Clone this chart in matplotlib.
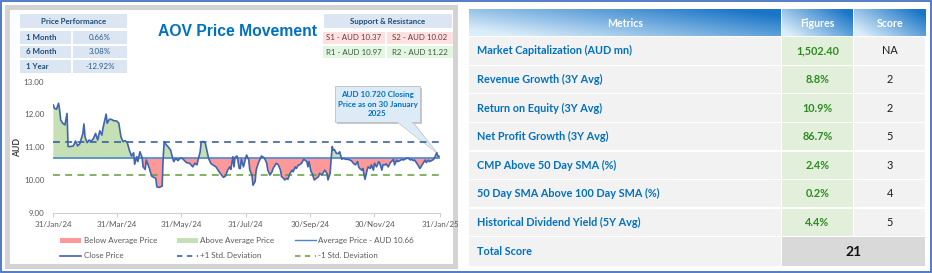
import numpy as np
import pandas as pd
import matplotlib
matplotlib.use("Agg")
import matplotlib.pyplot as plt
from matplotlib.patches import Rectangle, Polygon
from matplotlib.lines import Line2D

# ---------------- data ----------------
day_offsets = [0, 1, 3, 5, 6, 7, 9, 11, 13, 14, 16, 19, 21, 23, 25, 28, 29, 30, 32, 34,
               36, 38, 40, 42, 44, 46, 47, 50, 51, 53, 55, 57, 60, 62, 64, 66, 68, 70, 72, 74,
               76, 77, 79, 80, 82, 84, 85, 87, 88, 91, 93, 95, 97, 98, 100, 103, 104, 105, 107, 109,
               111, 113, 114, 116, 118, 120, 122, 125, 126, 129, 132, 134, 136, 137, 139, 140, 143, 144, 147, 149,
               151, 154, 156, 158, 161, 163, 165, 167, 168, 170, 171, 172, 174, 176, 177, 178, 180, 182, 183, 185,
               186, 188, 189, 191, 192, 194, 196, 197, 199, 200, 202, 203, 205, 207, 208, 210, 211, 213, 215, 216,
               218, 219, 221, 222, 224, 226, 227, 229, 230, 232, 233, 235, 237, 238, 240, 241, 242, 244, 245, 247,
               249, 251, 252, 254, 256, 257, 259, 260, 262, 263, 264, 265, 266, 268, 270, 271, 273, 274, 277, 279,
               282, 284, 286, 288, 289, 290, 292, 293, 295, 297, 298, 300, 301, 303, 304, 306, 308, 309, 311, 312,
               314, 315, 317, 319, 320, 322, 323, 325, 326, 328, 330, 331, 333, 334, 336, 338, 339, 341, 342, 344,
               345, 347, 349, 350, 352, 353, 355, 356, 358, 360, 361, 363, 364, 365]
close_prices = [12.29, 12.19, 12.16, 12.34, 12.13, 11.83, 11.73, 11.68, 12.03, 11.02, 11.02, 11.04, 11.19, 11.04, 11.10, 11.42, 11.71, 11.32, 11.14, 11.22,
                11.18, 11.27, 11.42, 11.22, 11.50, 11.37, 11.58, 12.01, 11.73, 11.85, 11.85, 11.81, 11.80, 11.73, 11.32, 11.17, 11.20, 11.14, 10.91, 10.73,
                10.83, 10.48, 10.71, 10.56, 10.86, 10.69, 10.40, 10.32, 10.61, 10.35, 10.12, 10.08, 10.05, 9.79, 9.77, 9.81, 10.69, 11.17, 11.07, 11.00,
                10.91, 10.66, 10.56, 10.66, 10.59, 10.66, 10.66, 10.56, 10.53, 10.51, 10.40, 10.51, 10.46, 10.61, 10.86, 11.17, 11.17, 11.10, 10.66, 10.51,
                10.46, 10.40, 10.30, 10.20, 10.08, 10.12, 10.30, 10.40, 10.32, 10.71, 10.40, 10.69, 10.73, 10.35, 10.35, 10.63, 10.40, 10.66, 10.76, 10.61,
                10.30, 10.15, 9.84, 9.95, 10.30, 10.51, 10.66, 10.73, 10.69, 10.66, 10.51, 10.30, 10.15, 10.25, 10.35, 10.46, 10.51, 10.46, 10.30, 10.10,
                10.05, 10.00, 10.05, 10.02, 10.20, 10.30, 10.25, 10.40, 10.35, 10.46, 10.46, 10.51, 10.63, 10.61, 10.56, 10.40, 10.56, 10.25, 10.20, 10.00,
                10.05, 10.10, 10.20, 10.15, 10.25, 10.30, 10.20, 10.00, 10.20, 10.66, 11.02, 10.91, 10.93, 10.81, 10.81, 10.86, 10.63, 10.66, 10.63, 10.63,
                10.59, 10.51, 10.46, 10.56, 10.40, 10.35, 10.30, 10.35, 10.02, 10.30, 10.40, 10.35, 10.46, 10.30, 10.51, 10.40, 10.56, 10.51, 10.30, 10.46,
                10.46, 10.49, 10.40, 10.53, 10.56, 10.63, 10.46, 10.61, 10.56, 10.59, 10.63, 10.61, 10.63, 10.66, 10.66, 10.61, 10.63, 10.59, 10.61, 10.51,
                10.46, 10.35, 10.46, 10.51, 10.61, 10.53, 10.61, 10.56, 10.59, 10.63, 10.69, 10.83, 10.71, 10.72]
start_date = "2024-01-31"
average_price = 10.66
plus_one_std = 11.17
minus_one_std = 10.16
y_ticks = [9.0, 10.0, 11.0, 12.0, 13.0]
x_tick_dates = ["2024-01-31", "2024-03-31", "2024-05-31", "2024-07-31", "2024-09-30", "2024-11-30", "2025-01-31"]
x_tick_labels = ["31/Jan/24", "31/Mar/24", "31/May/24", "31/Jul/24", "30/Sep/24", "30/Nov/24", "31/Jan/25"]

perf_periods = ["1 Month", "6 Month", "1 Year"]
perf_values = ["0.66%", "3.08%", "-12.92%"]
support_labels = ["S1 - AUD 10.37", "S2 - AUD 10.02"]
resistance_labels = ["R1 - AUD 10.97", "R2 - AUD 11.22"]
annotation_text = "AUD 10.720 Closing\nPrice as on 30 January\n2025"

metrics = ["Market Capitalization (AUD mn)", "Revenue Growth (3Y Avg)", "Return on Equity (3Y Avg)",
           "Net Profit Growth (3Y Avg)", "CMP Above 50 Day SMA (%)", "50 Day SMA Above 100 Day SMA (%)",
           "Historical Dividend Yield (5Y Avg)"]
figures = ["1,502.40", "8.8%", "10.9%", "86.7%", "2.4%", "0.2%", "4.4%"]
scores = ["NA", "2", "2", "5", "3", "4", "5"]
total_score = "21"

# ---------------- figure ----------------
W, H = 932, 273
fig = plt.figure(figsize=(W / 100, H / 100), dpi=100)
bg = fig.add_axes([0, 0, 1, 1])
bg.set_xlim(0, W)
bg.set_ylim(H, 0)
bg.axis("off")

FONT = ["Lato", "DejaVu Sans"]
DARKBLUE = "#1F4E79"

def rect(x0, y0, x1, y1, fc, ec="none", lw=0, z=1):
    bg.add_patch(Rectangle((x0, y0), x1 - x0, y1 - y0, facecolor=fc, edgecolor=ec, linewidth=lw, zorder=z))

# outer blue border
rect(0.8, 0.8, W - 1.2, H - 1.2, "white", ec="#4472C4", lw=1.3, z=0)
# left panel gray frame
rect(5, 5, 458, 269, "#D3D3D3", z=1)
rect(10, 10, 453, 264, "white", z=2)

# Price performance table
rect(20, 14, 127, 28, "#DCE6F2", z=3)
bg.text(73.5, 21.3, "Price Performance", ha="center", va="center", fontsize=5.7, fontweight="bold",
        color=DARKBLUE, family=FONT, zorder=4)
row_tops = [31, 45.5, 60]
for i, (p, v) in enumerate(zip(perf_periods, perf_values)):
    y0 = row_tops[i]
    rect(20, y0, 71, y0 + 12.5, "#DCE6F2", z=3)
    rect(73, y0, 127, y0 + 12.5, "#DCE6F2", z=3)
    bg.text(26, y0 + 6.3, p, ha="left", va="center", fontsize=5.7, fontweight="bold", color=DARKBLUE,
            family=FONT, zorder=4)
    bg.text(100, y0 + 6.3, v, ha="center", va="center", fontsize=5.7, color="#2E5C8A", family=FONT, zorder=4)

# Support & resistance
rect(324, 14, 452, 28, "#DCE6F2", z=3)
bg.text(388, 21.3, "Support & Resistance", ha="center", va="center", fontsize=5.7, fontweight="bold",
        color=DARKBLUE, family=FONT, zorder=4)
for j, lab in enumerate(support_labels):
    x0 = 323 if j == 0 else 387
    x1 = 385 if j == 0 else 453
    rect(x0, 32, x1, 43.5, "#FDE0E0", z=3)
    bg.text((x0 + x1) / 2, 38, lab, ha="center", va="center", fontsize=5.7, color="#6B3A3A", family=FONT, zorder=4)
for j, lab in enumerate(resistance_labels):
    x0 = 323 if j == 0 else 387
    x1 = 385 if j == 0 else 453
    rect(x0, 46, x1, 58, "#E2F6E2", z=3)
    bg.text((x0 + x1) / 2, 52.2, lab, ha="center", va="center", fontsize=5.7, color="#3C5A3C", family=FONT, zorder=4)

# title
bg.text(238, 31, "AOV Price Movement", ha="center", va="center", fontsize=11.3, fontweight="bold",
        color="#0070C0", family=["Liberation Sans", "DejaVu Sans"], zorder=4)

# ---------------- chart ----------------
x0p, x1p, ytop, ybot = 53.3, 440.0, 81.7, 212.7
ax = fig.add_axes([x0p / W, 1 - ybot / H, (x1p - x0p) / W, (ybot - ytop) / H])
ax.set_zorder(5)
ax.patch.set_alpha(0)

base = pd.Timestamp(start_date)
days = np.array(day_offsets, dtype=float)
price = np.array(close_prices)
end_days = (pd.Timestamp(x_tick_dates[-1]) - base).days
ax.set_xlim(0, end_days)
ax.set_ylim(y_ticks[0], y_ticks[-1])

ax.fill_between(days, price, average_price, where=price >= average_price, interpolate=True,
                color="#C5E0B4", linewidth=0)
ax.fill_between(days, price, average_price, where=price <= average_price, interpolate=True,
                color="#FF9999", linewidth=0)
ax.axhline(average_price, color="#4A86CF", linewidth=1.2)
ax.axhline(plus_one_std, color="#2F5597", linewidth=1.1, linestyle=(0, (4.5, 3.5)))
ax.axhline(minus_one_std, color="#5E9E3A", linewidth=1.1, linestyle=(0, (4.5, 3.5)))
ax.plot(days, price, color="#3F64B0", linewidth=1.2)

for s in ["top", "right", "left"]:
    ax.spines[s].set_visible(False)
ax.spines["bottom"].set_color("#D0D0D0")
ax.spines["bottom"].set_linewidth(0.8)
ax.set_yticks(y_ticks)
ax.set_yticklabels([f"{t:.2f}" for t in y_ticks], fontsize=5.8, color="#595959", family=FONT)
ax.tick_params(axis="y", length=0, pad=6.5)
tick_pos = [(pd.Timestamp(d) - base).days for d in x_tick_dates]
ax.set_xticks(tick_pos)
ax.set_xticklabels(x_tick_labels, fontsize=5.8, color="#595959", family=FONT)
ax.tick_params(axis="x", length=3, color="#D0D0D0", pad=3)
ax.set_ylabel("AUD", fontsize=6.2, fontweight="bold", color="#404040", family=FONT)
ax.yaxis.set_label_coords(-0.082, 0.5)

# annotation callout
bg.add_patch(Polygon([(396, 121), (412, 121), (437.5, 153.5)], closed=True, facecolor="#DDEBF7",
                     edgecolor="#BFBFBF", linewidth=0.6, zorder=6))
rect(336.5, 87.5, 421.5, 123.5, "#C8C8C8", z=6)
rect(335, 86, 420, 122, "#DDEBF7", ec="#BFBFBF", lw=0.6, z=7)
bg.add_patch(Polygon([(397, 121.4), (411, 121.4), (437, 153)], closed=True, facecolor="#DDEBF7",
                     edgecolor="none", zorder=7))
bg.text(377.5, 104, annotation_text, ha="center", va="center", fontsize=5.8, fontweight="bold",
        color="#0070C0", family=FONT, linespacing=1.5, zorder=8)

# legend
leg_fs = 5.8
lc = "#595959"
def leg_text(x, y, s):
    bg.text(x, y, s, ha="left", va="center", fontsize=leg_fs, color=lc, family=FONT, zorder=4)

rect(60, 237.5, 81, 242.5, "#FF9999", z=3)
leg_text(83.5, 240, "Below Average Price")
rect(177, 237.5, 198, 242.5, "#C5E0B4", z=3)
leg_text(200.5, 240, "Above Average Price")
bg.add_line(Line2D([295, 316], [240, 240], color="#4A86CF", linewidth=1.0, zorder=3))
leg_text(318.5, 240, "Average Price - AUD 10.66")
bg.add_line(Line2D([60, 81], [255.5, 255.5], color="#3F64B0", linewidth=1.2, zorder=3))
leg_text(83.5, 255.5, "Close Price")
bg.add_line(Line2D([177, 198], [255.5, 255.5], color="#2F5597", linewidth=1.1, linestyle=(0, (3.5, 3)), zorder=3))
leg_text(200.5, 255.5, "+1 Std. Deviation")
bg.add_line(Line2D([295, 316], [255.5, 255.5], color="#5E9E3A", linewidth=1.1, linestyle=(0, (3.5, 3)), zorder=3))
leg_text(318.5, 255.5, "-1 Std. Deviation")

# ---------------- right table ----------------
cols = [(469.3, 780.7), (782.2, 852.7), (854.2, 925.3)]
hdr_y0, hdr_y1 = 9.3, 36.0
light = np.array([0.86, 0.93, 0.98])
dark = np.array([0.10, 0.46, 0.78])
for (cx0, cx1), label in zip(cols, ["Metrics", "Figures", "Score"]):
    nx, ny = 60, 20
    xs = np.linspace(0, 1, nx)[None, :, None]
    ys = np.linspace(0, 1, ny)[:, None, None]
    t = np.clip(0.75 * xs + 0.45 * (1 - ys) - 0.1, 0, 1)
    img = light * (1 - t) + dark * t
    bg.imshow(img, extent=(cx0, cx1, hdr_y1, hdr_y0), aspect="auto", zorder=3, interpolation="bilinear")
    bg.text((cx0 + cx1) / 2, (hdr_y0 + hdr_y1) / 2 + 0.5, label, ha="center", va="center", fontsize=7.6,
            fontweight="bold", color="white", family=FONT, zorder=4)

row_edges = [37.3, 65.9, 94.4, 123.0, 151.5, 180.1, 208.6, 237.2, 266.0]
TFS = 7.8
for i in range(len(metrics)):
    y0, y1 = row_edges[i], row_edges[i + 1] - 1.3
    rect(cols[0][0], y0, cols[0][1], y1, "#F2F2F2", z=3)
    rect(cols[1][0], y0, cols[1][1], y1, "#E2EFDA", z=3)
    rect(cols[2][0], y0, cols[2][1], y1, "#F2F2F2", z=3)
    yc = (y0 + y1) / 2
    bg.text(477.3, yc, metrics[i], ha="left", va="center", fontsize=TFS, fontweight="bold",
            color="#0070C0", family=FONT, zorder=4)
    bg.text((cols[1][0] + cols[1][1]) / 2, yc, figures[i], ha="center", va="center", fontsize=TFS,
            fontweight="bold", color="#2E8B22", family=FONT, zorder=4)
    bg.text((cols[2][0] + cols[2][1]) / 2, yc, scores[i], ha="center", va="center", fontsize=TFS,
            color="#1A1A1A", family=FONT, zorder=4)
y0, y1 = row_edges[7], row_edges[8]
rect(cols[0][0], y0, cols[0][1], y1, "#F2F2F2", z=3)
rect(cols[1][0], y0, cols[2][1], y1, "#D9D9D9", z=3)
bg.text(477.3, (y0 + y1) / 2, "Total Score", ha="left", va="center", fontsize=TFS, fontweight="bold",
        color="#0070C0", family=FONT, zorder=4)
bg.text((cols[1][0] + cols[2][1]) / 2, (y0 + y1) / 2, total_score, ha="center", va="center", fontsize=10,
        fontweight="bold", color="#111111", family=FONT, zorder=4)

fig.savefig("out.png", dpi=100)
